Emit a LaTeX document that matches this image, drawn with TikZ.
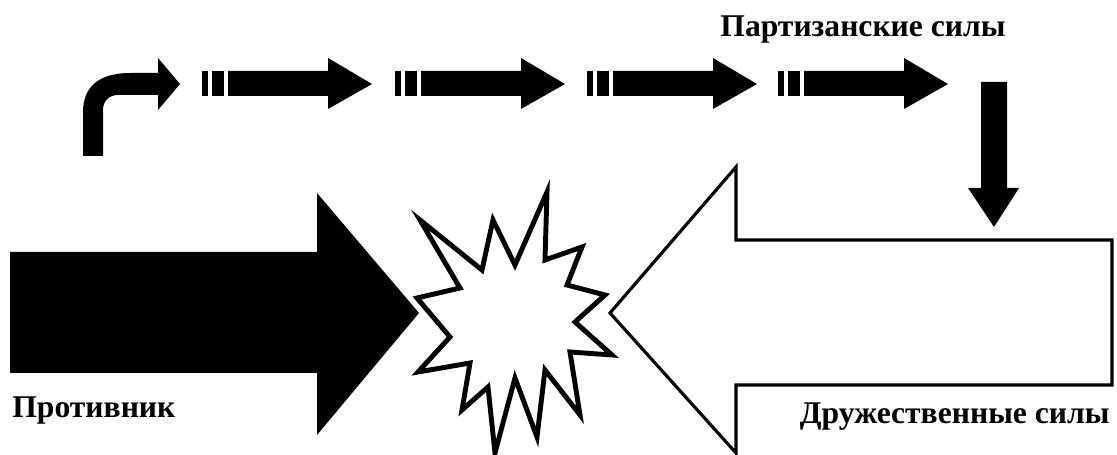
\documentclass[tikz,border=0pt]{standalone}
\usepackage{fontspec}
\setmainfont{Liberation Serif}
\usepackage{tikz}
\usetikzlibrary{positioning, calc}
\definecolor{inkblack}{HTML}{000000}
\definecolor{paperwhite}{HTML}{FFFFFF}

\begin{document}
\begin{tikzpicture}[x=0.02cm, y=-0.02cm,
  solidarrow/.style={fill=inkblack},
  hollowarrow/.style={draw=inkblack, fill=paperwhite, line width=1.8pt, line join=miter},
  burst/.style={draw=inkblack, fill=paperwhite, line width=2.8pt, line join=miter},
  forcelabel/.style={inkblack, font=\fontsize{18}{18}\selectfont\bfseries, inner sep=0pt}]
  \useasboundingbox[fill=paperwhite] (0,0) rectangle (1117,455);

  % Partisan route: bent start arrow
  \fill[solidarrow] (83,156) -- (83,112) .. controls (83,86) and (100,73) .. (130,73)
    -- (158,73) -- (158,58) -- (180,84) -- (158,110) -- (158,95) -- (118,95)
    .. controls (109,95) and (103,101) .. (103,110) -- (103,156) -- cycle;

  % Partisan route: broken arrows
  \foreach \x in {202,395,587,778} {
    \begin{scope}[shift={(\x,0)}]
      \fill[solidarrow] (0,71) rectangle (6,96);
      \fill[solidarrow] (10,71) rectangle (22,96);
      \fill[solidarrow] (26,71) -- (126,71) -- (126,58) -- (170,84) -- (126,109) -- (126,96) -- (26,96) -- cycle;
    \end{scope}
  }

  % Partisan route: drop onto the flank
  \fill[solidarrow] (981,82) -- (1007,82) -- (1007,188) -- (1019,188) -- (994,227) -- (968,188) -- (981,188) -- cycle;

  % Enemy thrust
  \fill[solidarrow] (10,252) -- (317,252) -- (317,193) -- (419,313) -- (317,435) -- (317,373) -- (10,373) -- cycle;

  % Friendly thrust
  \draw[hollowarrow] (610,313) -- (736,167) -- (736,240) -- (1112,240) -- (1112,385) -- (736,385) -- (736,453) -- cycle;

  % Clash
  \draw[burst] (547,192) -- (545,260) -- (582,247) -- (567,285) -- (605,295) -- (575,322)
    -- (612,355) -- (570,352) -- (580,415) -- (545,370) -- (537,437) -- (515,378)
    -- (495,453) -- (488,387) -- (462,410) -- (470,363) -- (418,372) -- (450,337)
    -- (417,298) -- (460,288) -- (420,220) -- (482,270) -- (493,220) -- (515,265) -- cycle;

  % Labels
  \node[forcelabel, anchor=base] (partisan) at (863,37) {Партизанские силы};
  \node[forcelabel, anchor=base west] (enemy) at (12,418) {Противник};
  \node[forcelabel, anchor=base east] (friendly) at (1110,424) {Дружественные силы};
\end{tikzpicture}
\end{document}
